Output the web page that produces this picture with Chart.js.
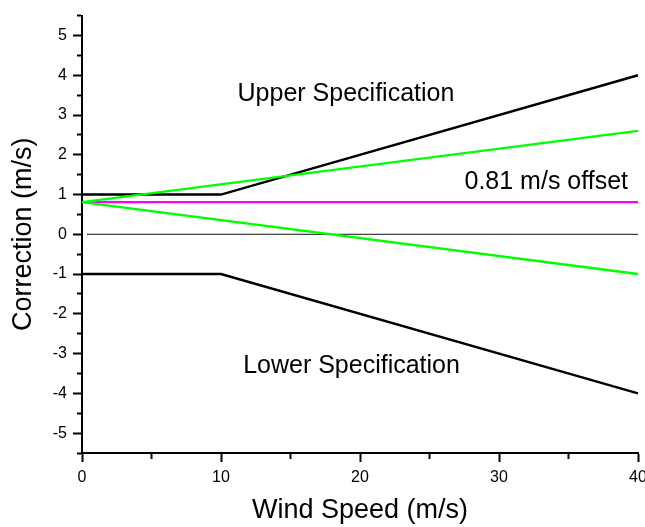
<!DOCTYPE html>
<html><head><meta charset="utf-8">
<script src="https://cdn.jsdelivr.net/npm/chart.js@4/dist/chart.umd.min.js"></script>
<style>
html,body{margin:0;padding:0;background:#fff;overflow:hidden;width:645px;height:527px}
#wrap{width:645px;height:527px;overflow:hidden;position:relative}
#c{position:absolute;left:0;top:0}
</style></head>
<body><div id="wrap"><canvas id="c" width="660" height="527"></canvas></div>
<script>
// ---- data ----
const specX = [0, 10, 40];
const upperSpec = [1, 1, 4];
const lowerSpec = [-1, -1, -4];
const bandX = [0, 40];
const greenUpper = [0.81, 2.6];
const greenLower = [0.81, -1.0];
const offsetLine = [0.81, 0.81];
const zeroX = [0.35, 40];
const zeroLine = [0, 0];
const xTickLabels = [0, 10, 20, 30, 40];
const yTickLabels = [-5, -4, -3, -2, -1, 0, 1, 2, 3, 4, 5];
const labelTexts = ['Upper Specification', '0.81 m/s offset', 'Lower Specification'];
const xTitle = 'Wind Speed (m/s)';
const yTitle = 'Correction (m/s)';

const pts = (xs, ys) => xs.map((x, i) => ({x, y: ys[i]}));
const FONT = "'Liberation Sans', Arial, Helvetica, sans-serif";
Chart.defaults.font.family = FONT;
Chart.defaults.color = '#000';

const labelPos = [[18.99, 3.53], [33.4, 1.30], [19.39, -3.32]];
const annot = {
  id: 'annot',
  afterDatasetsDraw(chart) {
    const {ctx, scales: {x, y}} = chart;
    ctx.save();
    ctx.font = '25px ' + FONT;
    ctx.fillStyle = '#000';
    ctx.textAlign = 'center';
    ctx.textBaseline = 'middle';
    labelTexts.forEach((t, i) => {
      ctx.fillText(t, x.getPixelForValue(labelPos[i][0]), y.getPixelForValue(labelPos[i][1]));
    });
    ctx.restore();
  }
};

const line = (data, color, width, order) => ({
  data, borderColor: color, borderWidth: width, pointRadius: 0, tension: 0,
  fill: false, order, clip: 4
});

new Chart(document.getElementById('c'), {
  type: 'line',
  data: {
    datasets: [
      line(pts(zeroX, zeroLine), '#111', 1, 6),
      line(pts(specX, upperSpec), '#000', 2.4, 5),
      line(pts(specX, lowerSpec), '#000', 2.4, 4),
      line(pts(bandX, offsetLine), '#ff00ff', 2.4, 3),
      line(pts(bandX, greenUpper), '#00ff00', 2.4, 2),
      line(pts(bandX, greenLower), '#00ff00', 2.4, 1)
    ]
  },
  options: {
    responsive: false,
    animation: false,
    devicePixelRatio: 1,
    layout: {padding: {left: 0, top: 11, right: 22, bottom: 0}},
    plugins: {legend: {display: false}, tooltip: {enabled: false}},
    scales: {
      x: {
        type: 'linear', min: 0, max: 40,
        afterFit(s) { s.height = 74; },
        border: {display: true, color: '#000', width: 2},
        grid: {
          drawOnChartArea: false, drawTicks: true, tickLength: 9, tickWidth: 2, tickColor: '#000',
          tickBorderDash: (c) => xTickLabels.includes(c.tick && c.tick.value) ? [] : [5, 100]
        },
        ticks: {
          stepSize: 5, padding: 6, maxRotation: 0, autoSkip: false,
          font: {size: 16},
          callback: (v) => xTickLabels.includes(v) ? String(v) : ''
        },
        title: {display: true, text: xTitle, font: {size: 27, lineHeight: 1}, padding: {top: 0, bottom: 3}}
      },
      y: {
        type: 'linear', min: -5.5, max: 5.5,
        afterFit(s) { s.width = 82; },
        border: {display: true, color: '#000', width: 2},
        grid: {
          drawOnChartArea: false, drawTicks: true, tickLength: 9, tickWidth: 2, tickColor: '#000',
          tickBorderDash: (c) => yTickLabels.includes(c.tick && c.tick.value) ? [] : [0, 4, 6, 100]
        },
        ticks: {
          stepSize: 0.5, padding: 6, autoSkip: false,
          font: {size: 16},
          callback: (v) => yTickLabels.includes(v) ? String(v) : ''
        },
        title: {display: true, text: yTitle, font: {size: 27, lineHeight: 1}, padding: {top: 10, bottom: 0}}
      }
    }
  },
  plugins: [annot]
});
</script>
</body></html>
